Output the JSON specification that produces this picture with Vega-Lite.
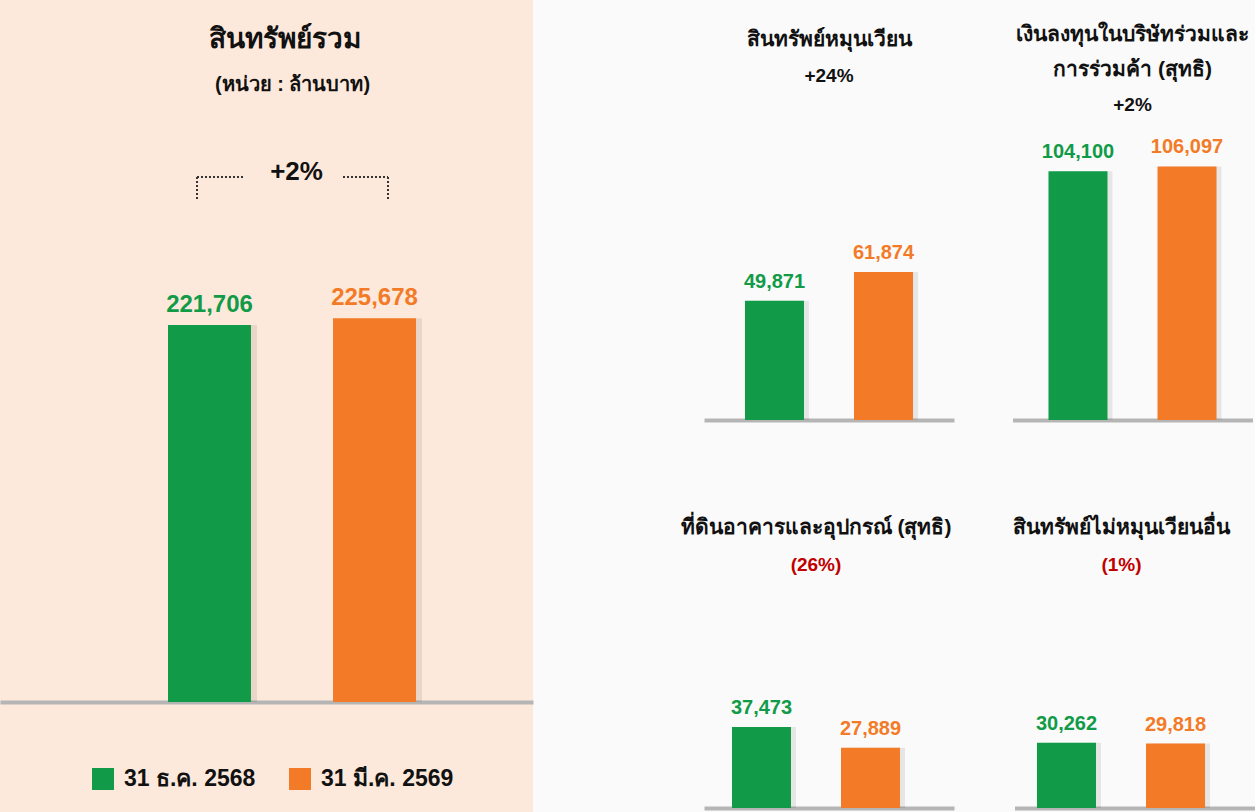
{
  "$schema": "https://vega.github.io/schema/vega-lite/v6.json",
  "background": "#FAFAFA",
  "padding": 0,
  "data": {"values": [
    {"group": "สินทรัพย์รวม", "period": "31 ธ.ค. 2568", "value": 221706},
    {"group": "สินทรัพย์รวม", "period": "31 มี.ค. 2569", "value": 225678},
    {"group": "สินทรัพย์หมุนเวียน", "period": "31 ธ.ค. 2568", "value": 49871},
    {"group": "สินทรัพย์หมุนเวียน", "period": "31 มี.ค. 2569", "value": 61874},
    {"group": "เงินลงทุนในบริษัทร่วมและการร่วมค้า (สุทธิ)", "period": "31 ธ.ค. 2568", "value": 104100},
    {"group": "เงินลงทุนในบริษัทร่วมและการร่วมค้า (สุทธิ)", "period": "31 มี.ค. 2569", "value": 106097},
    {"group": "ที่ดินอาคารและอุปกรณ์ (สุทธิ)", "period": "31 ธ.ค. 2568", "value": 37473},
    {"group": "ที่ดินอาคารและอุปกรณ์ (สุทธิ)", "period": "31 มี.ค. 2569", "value": 27889},
    {"group": "สินทรัพย์ไม่หมุนเวียนอื่น", "period": "31 ธ.ค. 2568", "value": 30262},
    {"group": "สินทรัพย์ไม่หมุนเวียนอื่น", "period": "31 มี.ค. 2569", "value": 29818}
  ]},
  "spacing": 147,
  "hconcat": [
    {
      "width": 533,
      "height": 812,
      "view": {"fill": "#FDE9DB", "stroke": null},
      "layer": [
        {
          "transform": [{"filter": {"field": "group", "equal": "สินทรัพย์รวม"}}],
          "layer": [
            {
              "mark": {"type": "bar", "color": "#000000", "opacity": 0.08, "xOffset": 6},
              "encoding": {
                "x": {"field": "period", "type": "nominal", "axis": null, "scale": {"paddingInner": 0.497, "paddingOuter": 0.8636, "align": 0.5895}},
                "y": {"field": "value", "type": "quantitative", "scale": {"domain": [-64706, 412941], "nice": false},
                  "axis": {"values": [0], "grid": true, "gridColor": "#b5b5b5", "gridWidth": 4, "domain": false, "ticks": false, "labels": false, "title": null}}
              }
            },
            {
              "mark": {"type": "bar"},
              "encoding": {
                "x": {"field": "period", "type": "nominal"},
                "y": {"field": "value", "type": "quantitative"},
                "color": {"field": "period", "type": "nominal", "scale": {"domain": ["31 ธ.ค. 2568", "31 มี.ค. 2569"], "range": ["#119B48", "#F37B27"]},
                  "legend": {"title": null, "orient": "none", "legendX": 91, "legendY": 767, "direction": "horizontal", "symbolType": "square", "symbolSize": 484, "labelFontSize": 23, "labelFontWeight": "bold", "labelColor": "#111", "labelOffset": 9, "columnPadding": 32, "symbolOpacity": 1}}
              }
            },
            {
              "mark": {"type": "text", "fontSize": 24, "fontWeight": "bold", "baseline": "alphabetic", "dy": -13},
              "encoding": {
                "x": {"field": "period", "type": "nominal"},
                "y": {"field": "value", "type": "quantitative"},
                "text": {"field": "value", "type": "quantitative", "format": ","},
                "color": {"field": "period", "type": "nominal"}
              }
            }
          ]
        },
        {
          "data": {"values": [{"label": "สินทรัพย์รวม"}]},
          "mark": {"type": "text", "fontSize": 28, "fontWeight": "bold", "color": "#111", "baseline": "middle", "dx": 18},
          "encoding": {"y": {"datum": 389412, "type": "quantitative"}, "text": {"field": "label"}}
        },
        {
          "data": {"values": [{"label": "(หน่วย : ล้านบาท)"}]},
          "mark": {"type": "text", "fontSize": 20, "fontWeight": "bold", "color": "#111", "baseline": "middle", "dx": 26},
          "encoding": {"y": {"datum": 362941, "type": "quantitative"}, "text": {"field": "label"}}
        },
        {
          "data": {"values": [{"label": "+2%"}]},
          "mark": {"type": "text", "fontSize": 26, "fontWeight": "bold", "color": "#111", "baseline": "middle", "dx": 30},
          "encoding": {"y": {"datum": 311765, "type": "quantitative"}, "text": {"field": "label"}}
        },
        {
          "data": {"values": [{"label": "bracket"}]},
          "mark": {"type": "rule", "color": "#333", "strokeWidth": 2, "strokeDash": [2, 2], "xOffset": -12.5},
          "encoding": {"x": {"datum": "31 ธ.ค. 2568"}, "y": {"datum": 308824, "type": "quantitative"}, "y2": {"datum": 295882}}
        },
        {
          "data": {"values": [{"label": "bracket"}]},
          "mark": {"type": "rule", "color": "#333", "strokeWidth": 2, "strokeDash": [2, 2], "xOffset": 13.5},
          "encoding": {"x": {"datum": "31 มี.ค. 2569"}, "y": {"datum": 308824, "type": "quantitative"}, "y2": {"datum": 295882}}
        },
        {
          "data": {"values": [{"label": "bracket"}]},
          "mark": {"type": "rule", "color": "#333", "strokeWidth": 2, "strokeDash": [2, 2], "xOffset": -12.5, "x2Offset": 34.5},
          "encoding": {"x": {"datum": "31 ธ.ค. 2568"}, "x2": {"datum": "31 ธ.ค. 2568"}, "y": {"datum": 308824, "type": "quantitative"}}
        },
        {
          "data": {"values": [{"label": "bracket"}]},
          "mark": {"type": "rule", "color": "#333", "strokeWidth": 2, "strokeDash": [2, 2], "xOffset": -31.5, "x2Offset": 13.5},
          "encoding": {"x": {"datum": "31 มี.ค. 2569"}, "x2": {"datum": "31 มี.ค. 2569"}, "y": {"datum": 308824, "type": "quantitative"}}
        }
      ]
    },
    {
      "spacing": 60,
      "vconcat": [
        {
          "spacing": 58.5,
          "hconcat": [
            {
              "width": 250,
              "height": 420,
              "layer": [
                {
                  "transform": [{"filter": {"field": "group", "equal": "สินทรัพย์หมุนเวียน"}}],
                  "layer": [
                    {"mark": {"type": "bar", "color": "#000000", "opacity": 0.08, "xOffset": 5}, "encoding": {
                      "x": {"field": "period", "type": "nominal", "axis": null, "scale": {"paddingInner": 0.4587, "paddingOuter": 0.376}},
                      "y": {"field": "value", "type": "quantitative", "scale": {"domain": [0, 175732], "nice": false},
                        "axis": {"values": [0], "grid": true, "gridColor": "#b5b5b5", "gridWidth": 4, "domain": false, "ticks": false, "labels": false, "title": null}}}},
                    {"mark": {"type": "bar"}, "encoding": {
                      "x": {"field": "period", "type": "nominal"},
                      "y": {"field": "value", "type": "quantitative"},
                      "color": {"field": "period", "type": "nominal", "legend": null}}},
                    {"mark": {"type": "text", "fontSize": 20, "fontWeight": "bold", "baseline": "alphabetic", "dy": -13}, "encoding": {
                      "x": {"field": "period", "type": "nominal"},
                      "y": {"field": "value", "type": "quantitative"},
                      "text": {"field": "value", "type": "quantitative", "format": ","},
                      "color": {"field": "period", "type": "nominal", "legend": null}}}
                  ]
                },
                {
                  "data": {"values": [{"label": "สินทรัพย์หมุนเวียน"}]},
                  "mark": {"type": "text", "fontSize": 21, "fontWeight": "bold", "color": "#111", "baseline": "middle"},
                  "encoding": {"y": {"datum": 158996, "type": "quantitative"}, "text": {"field": "label"}}
                },
                {
                  "data": {"values": [{"label": "+24%"}]},
                  "mark": {"type": "text", "fontSize": 19, "fontWeight": "bold", "color": "#111", "baseline": "middle"},
                  "encoding": {"y": {"datum": 143933, "type": "quantitative"}, "text": {"field": "label"}}
                }
              ]
            },
            {
              "width": 240,
              "height": 420,
              "layer": [
                {
                  "transform": [{"filter": {"field": "group", "equal": "เงินลงทุนในบริษัทร่วมและการร่วมค้า (สุทธิ)"}}],
                  "layer": [
                    {"mark": {"type": "bar", "color": "#000000", "opacity": 0.08, "xOffset": 5}, "encoding": {
                      "x": {"field": "period", "type": "nominal", "axis": null, "scale": {"paddingInner": 0.4587, "paddingOuter": 0.33}},
                      "y": {"field": "value", "type": "quantitative", "scale": {"domain": [0, 175732], "nice": false},
                        "axis": {"values": [0], "grid": true, "gridColor": "#b5b5b5", "gridWidth": 4, "domain": false, "ticks": false, "labels": false, "title": null}}}},
                    {"mark": {"type": "bar"}, "encoding": {
                      "x": {"field": "period", "type": "nominal"},
                      "y": {"field": "value", "type": "quantitative"},
                      "color": {"field": "period", "type": "nominal", "legend": null}}},
                    {"mark": {"type": "text", "fontSize": 20, "fontWeight": "bold", "baseline": "alphabetic", "dy": -13}, "encoding": {
                      "x": {"field": "period", "type": "nominal"},
                      "y": {"field": "value", "type": "quantitative"},
                      "text": {"field": "value", "type": "quantitative", "format": ","},
                      "color": {"field": "period", "type": "nominal", "legend": null}}}
                  ]
                },
                {
                  "data": {"values": [{"label": "เงินลงทุนในบริษัทร่วมและ"}]},
                  "mark": {"type": "text", "fontSize": 21, "fontWeight": "bold", "color": "#111", "baseline": "middle"},
                  "encoding": {"y": {"datum": 161088, "type": "quantitative"}, "text": {"field": "label"}}
                },
                {
                  "data": {"values": [{"label": "การร่วมค้า (สุทธิ)"}]},
                  "mark": {"type": "text", "fontSize": 21, "fontWeight": "bold", "color": "#111", "baseline": "middle"},
                  "encoding": {"y": {"datum": 146444, "type": "quantitative"}, "text": {"field": "label"}}
                },
                {
                  "data": {"values": [{"label": "+2%"}]},
                  "mark": {"type": "text", "fontSize": 19, "fontWeight": "bold", "color": "#111", "baseline": "middle"},
                  "encoding": {"y": {"datum": 131799, "type": "quantitative"}, "text": {"field": "label"}}
                }
              ]
            }
          ]
        },
        {
          "spacing": 58.5,
          "hconcat": [
            {
              "width": 250,
              "height": 328,
              "layer": [
                {
                  "transform": [{"filter": {"field": "group", "equal": "ที่ดินอาคารและอุปกรณ์ (สุทธิ)"}}],
                  "layer": [
                    {"mark": {"type": "bar", "color": "#000000", "opacity": 0.08, "xOffset": 5}, "encoding": {
                      "x": {"field": "period", "type": "nominal", "axis": null, "scale": {"paddingInner": 0.4587, "paddingOuter": 0.376, "align": 0.3415}},
                      "y": {"field": "value", "type": "quantitative", "scale": {"domain": [0, 151852], "nice": false},
                        "axis": {"values": [0], "grid": true, "gridColor": "#b5b5b5", "gridWidth": 4, "domain": false, "ticks": false, "labels": false, "title": null}}}},
                    {"mark": {"type": "bar"}, "encoding": {
                      "x": {"field": "period", "type": "nominal"},
                      "y": {"field": "value", "type": "quantitative"},
                      "color": {"field": "period", "type": "nominal", "legend": null}}},
                    {"mark": {"type": "text", "fontSize": 20, "fontWeight": "bold", "baseline": "alphabetic", "dy": -13}, "encoding": {
                      "x": {"field": "period", "type": "nominal"},
                      "y": {"field": "value", "type": "quantitative"},
                      "text": {"field": "value", "type": "quantitative", "format": ","},
                      "color": {"field": "period", "type": "nominal", "legend": null}}}
                  ]
                },
                {
                  "data": {"values": [{"label": "ที่ดินอาคารและอุปกรณ์ (สุทธิ)"}]},
                  "mark": {"type": "text", "fontSize": 21, "fontWeight": "bold", "color": "#111", "baseline": "middle", "dx": -13},
                  "encoding": {"y": {"datum": 129630, "type": "quantitative"}, "text": {"field": "label"}}
                },
                {
                  "data": {"values": [{"label": "(26%)"}]},
                  "mark": {"type": "text", "fontSize": 19, "fontWeight": "bold", "color": "#C00000", "baseline": "middle", "dx": -13},
                  "encoding": {"y": {"datum": 112500, "type": "quantitative"}, "text": {"field": "label"}}
                }
              ]
            },
            {
              "width": 240,
              "height": 328,
              "layer": [
                {
                  "transform": [{"filter": {"field": "group", "equal": "สินทรัพย์ไม่หมุนเวียนอื่น"}}],
                  "layer": [
                    {"mark": {"type": "bar", "color": "#000000", "opacity": 0.08, "xOffset": 5}, "encoding": {
                      "x": {"field": "period", "type": "nominal", "axis": null, "scale": {"paddingInner": 0.4587, "paddingOuter": 0.33, "align": 0.3125}},
                      "y": {"field": "value", "type": "quantitative", "scale": {"domain": [0, 151852], "nice": false},
                        "axis": {"values": [0], "grid": true, "gridColor": "#b5b5b5", "gridWidth": 4, "domain": false, "ticks": false, "labels": false, "title": null}}}},
                    {"mark": {"type": "bar"}, "encoding": {
                      "x": {"field": "period", "type": "nominal"},
                      "y": {"field": "value", "type": "quantitative"},
                      "color": {"field": "period", "type": "nominal", "legend": null}}},
                    {"mark": {"type": "text", "fontSize": 20, "fontWeight": "bold", "baseline": "alphabetic", "dy": -13}, "encoding": {
                      "x": {"field": "period", "type": "nominal"},
                      "y": {"field": "value", "type": "quantitative"},
                      "text": {"field": "value", "type": "quantitative", "format": ","},
                      "color": {"field": "period", "type": "nominal", "legend": null}}}
                  ]
                },
                {
                  "data": {"values": [{"label": "สินทรัพย์ไม่หมุนเวียนอื่น"}]},
                  "mark": {"type": "text", "fontSize": 21, "fontWeight": "bold", "color": "#111", "baseline": "middle", "dx": -13},
                  "encoding": {"y": {"datum": 129630, "type": "quantitative"}, "text": {"field": "label"}}
                },
                {
                  "data": {"values": [{"label": "(1%)"}]},
                  "mark": {"type": "text", "fontSize": 19, "fontWeight": "bold", "color": "#C00000", "baseline": "middle", "dx": -13},
                  "encoding": {"y": {"datum": 112500, "type": "quantitative"}, "text": {"field": "label"}}
                }
              ]
            }
          ]
        }
      ]
    }
  ],
  "config": {
    "font": "Liberation Sans",
    "aria": false,
    "view": {"stroke": null}
  }
}
